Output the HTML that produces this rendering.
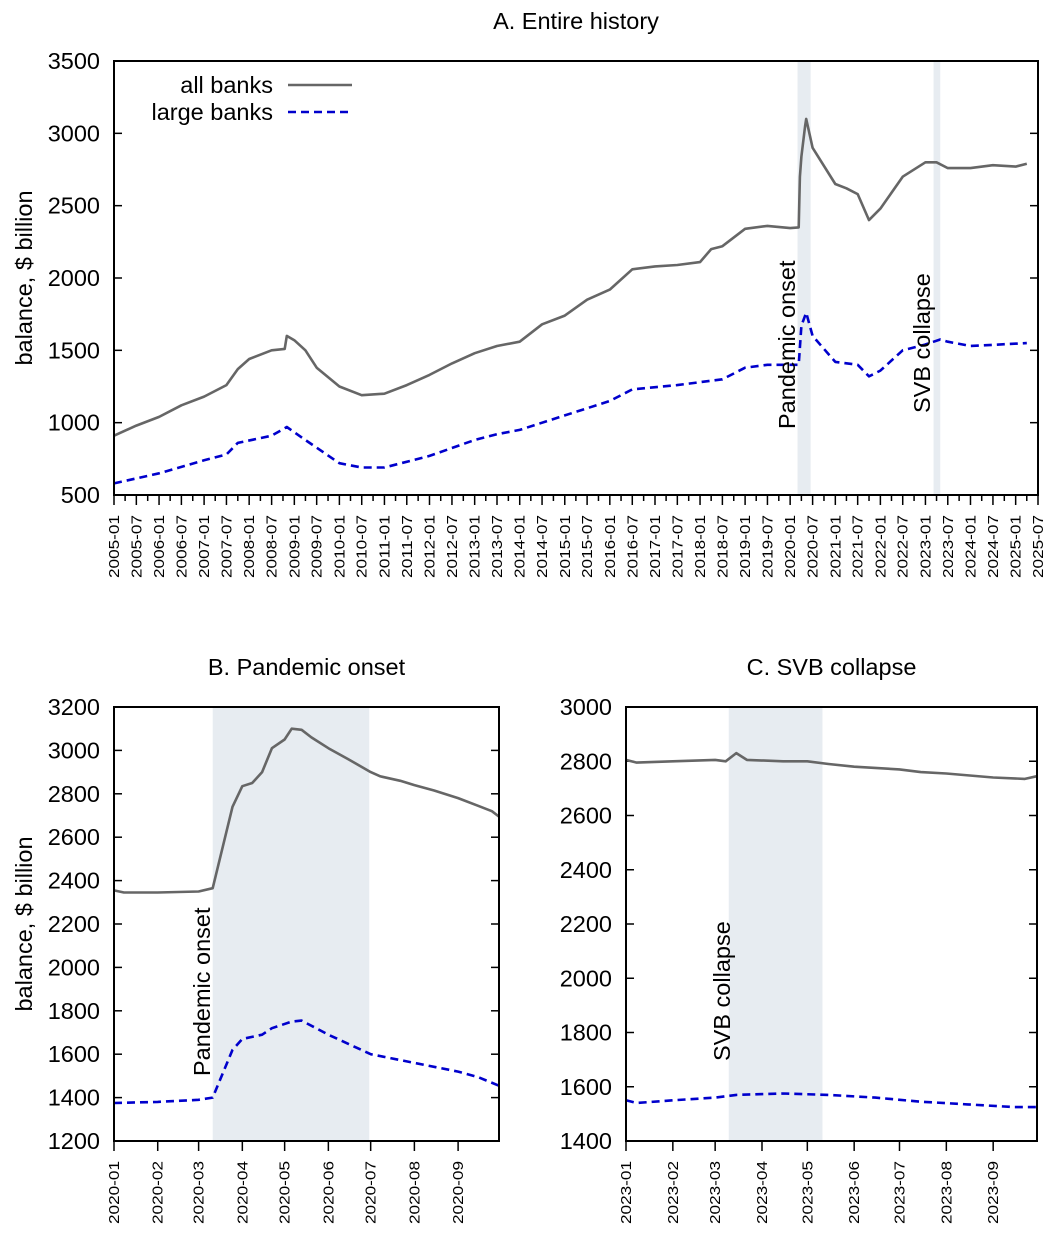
<!DOCTYPE html>
<html><head><meta charset="utf-8">
<style>
html,body{margin:0;padding:0;background:#fff;}
svg{display:block;font-family:"Liberation Sans",Arial,sans-serif;}
</style></head>
<body>
<svg id="fig" width="1047" height="1254" viewBox="0 0 1047 1254" xmlns="http://www.w3.org/2000/svg"></svg>
<script>
// ---- Panel A data (entire history) ----
const aAllDates = ["2005-01-01","2005-07-01","2006-01-01","2006-07-01","2007-01-01","2007-07-01","2007-10-01","2008-01-01","2008-07-01","2008-10-15","2008-11-01","2009-01-01","2009-04-01","2009-07-01","2010-01-01","2010-07-01","2011-01-01","2011-07-01","2012-01-01","2012-07-01","2013-01-01","2013-07-01","2014-01-01","2014-07-01","2015-01-01","2015-07-01","2016-01-01","2016-07-01","2017-01-01","2017-07-01","2018-01-01","2018-04-01","2018-07-01","2019-01-01","2019-07-01","2020-01-01","2020-03-10","2020-03-20","2020-04-01","2020-05-01","2020-05-10","2020-07-01","2021-01-01","2021-04-01","2021-07-01","2021-10-01","2022-01-01","2022-07-01","2023-01-01","2023-04-01","2023-07-01","2024-01-01","2024-07-01","2025-01-01","2025-04-01"];
const aAllVals = [910,980,1040,1120,1180,1260,1370,1440,1500,1510,1600,1570,1500,1380,1250,1190,1200,1260,1330,1410,1480,1530,1560,1680,1740,1850,1920,2060,2080,2090,2110,2200,2220,2340,2360,2345,2350,2700,2840,3050,3100,2900,2650,2620,2580,2400,2480,2700,2800,2800,2760,2760,2780,2770,2790];
const aLargeDates = ["2005-01-01","2006-01-01","2007-01-01","2007-07-01","2007-10-01","2008-07-01","2008-11-01","2009-04-01","2010-01-01","2010-07-01","2011-01-01","2012-01-01","2013-01-01","2013-07-01","2014-01-01","2015-01-01","2016-01-01","2016-07-01","2017-07-01","2018-07-01","2019-01-01","2019-07-01","2020-03-10","2020-04-01","2020-05-10","2020-07-01","2021-01-01","2021-07-01","2021-10-01","2022-01-01","2022-07-01","2023-01-01","2023-05-01","2023-07-01","2024-01-01","2025-04-01"];
const aLargeVals = [580,650,740,780,860,910,970,880,720,690,690,770,880,920,950,1050,1150,1230,1260,1300,1380,1400,1400,1670,1760,1600,1420,1400,1320,1360,1500,1540,1575,1560,1530,1550];
const aYTicks = [500,1000,1500,2000,2500,3000,3500];
// ---- Panel B data (pandemic onset) ----
const bAllDates = ["2020-01-01","2020-01-08","2020-02-01","2020-03-01","2020-03-11","2020-03-25","2020-04-01","2020-04-08","2020-04-15","2020-04-22","2020-05-01","2020-05-06","2020-05-13","2020-05-20","2020-06-01","2020-06-15","2020-07-01","2020-07-08","2020-07-22","2020-08-01","2020-08-15","2020-09-01","2020-09-15","2020-09-25","2020-09-30"];
const bAllVals = [2355,2345,2345,2350,2365,2740,2835,2850,2900,3010,3050,3100,3095,3060,3010,2960,2900,2880,2860,2840,2815,2780,2745,2720,2695];
const bLargeDates = ["2020-01-01","2020-02-01","2020-03-01","2020-03-11","2020-03-25","2020-04-01","2020-04-15","2020-04-22","2020-05-06","2020-05-13","2020-06-01","2020-07-01","2020-08-01","2020-09-01","2020-09-15","2020-09-30"];
const bLargeVals = [1375,1380,1390,1400,1620,1670,1690,1720,1750,1755,1690,1600,1560,1520,1495,1455];
const bYTicks = [1200,1400,1600,1800,2000,2200,2400,2600,2800,3000,3200];
// ---- Panel C data (SVB collapse) ----
const cAllDates = ["2023-01-01","2023-01-08","2023-02-01","2023-03-01","2023-03-08","2023-03-15","2023-03-22","2023-04-15","2023-05-01","2023-05-15","2023-06-01","2023-07-01","2023-07-15","2023-08-01","2023-09-01","2023-09-22","2023-09-30"];
const cAllVals = [2805,2795,2800,2805,2800,2830,2805,2800,2800,2790,2780,2770,2760,2755,2740,2735,2745];
const cLargeDates = ["2023-01-01","2023-01-08","2023-02-01","2023-03-01","2023-03-15","2023-04-15","2023-05-15","2023-06-15","2023-07-15","2023-08-15","2023-09-15","2023-09-30"];
const cLargeVals = [1550,1540,1550,1560,1570,1575,1570,1560,1545,1535,1525,1525];
const cYTicks = [1400,1600,1800,2000,2200,2400,2600,2800,3000];

const NS="http://www.w3.org/2000/svg";
const svg=document.getElementById('fig');
const FS=23.5;
function el(tag,attrs,parent){const e=document.createElementNS(NS,tag);for(const k in attrs)e.setAttribute(k,attrs[k]);(parent||svg).appendChild(e);return e;}
function dnum(s){const p=s.split('-').map(Number);return Date.UTC(p[0],p[1]-1,p[2]||1)/86400000;}

function panel(cfg){
  const g=el('g',{});
  
  
  const x0=dnum(cfg.xmin),x1=dnum(cfg.xmax);
  const sx=d=>cfg.L+(dnum(d)-x0)/(x1-x0)*(cfg.R-cfg.L);
  const sy=v=>cfg.B-(v-cfg.ymin)/(cfg.ymax-cfg.ymin)*(cfg.B-cfg.T);
  cfg.shades.forEach(s=>{
    const r=el('rect',{x:sx(s[0]),y:cfg.T,width:sx(s[1])-sx(s[0]),height:cfg.B-cfg.T,fill:'#e7ecf1'},g);
    
    
  });
  const t=el('text',{x:(cfg.L+cfg.R)/2,y:cfg.T-32,'text-anchor':'middle','font-size':FS},g);
  t.textContent=cfg.title;
  
  
  cfg.yticks.forEach(v=>{
    const y=sy(v);
    el('line',{x1:cfg.L,x2:cfg.L+8,y1:y,y2:y,stroke:'#000','stroke-width':1.5},g);
    el('line',{x1:cfg.R,x2:cfg.R-8,y1:y,y2:y,stroke:'#000','stroke-width':1.5},g);
    const tx=el('text',{x:cfg.L-14,y:y+8,'text-anchor':'end','font-size':FS},g);
    tx.textContent=v;
    
    
  });
  if(cfg.ylabel){
    const yl=el('text',{transform:`translate(${cfg.L-82},${(cfg.T+cfg.B)/2}) rotate(-90)`,'text-anchor':'middle','font-size':FS},g);
    yl.textContent='balance, $ billion';
    
    
  }
  cfg.xminor.forEach(d=>{const x=sx(d);el('line',{x1:x,x2:x,y1:cfg.B,y2:cfg.B+6,stroke:'#000','stroke-width':1.5},g);});
  cfg.xticks.forEach(d=>{
    const x=sx(d);
    el('line',{x1:x,x2:x,y1:cfg.B,y2:cfg.B+10,stroke:'#000','stroke-width':1.5},g);
    const tx=el('text',{transform:`translate(${x+5},${cfg.B+20}) rotate(-90)`,'text-anchor':'end','font-size':15,textLength:63,lengthAdjust:'spacingAndGlyphs'},g);
    tx.textContent=d.slice(0,7);
    
    
  });
  function line(dates,vals,style,name){
    const pts=dates.map((d,i)=>sx(d).toFixed(1)+','+sy(vals[i]).toFixed(1)).join(' ');
    const p=el('polyline',Object.assign({points:pts,fill:'none','stroke-linejoin':'round'},style),g);
    
    
  }
  line(cfg.allD,cfg.allV,{stroke:'#666','stroke-width':2.6},'all-banks-line');
  line(cfg.lgD,cfg.lgV,{stroke:'#0000cc','stroke-width':2.6,'stroke-dasharray':'8,5'},'large-banks-line');
  cfg.notes.forEach(n=>{
    const tx=el('text',{transform:`translate(${n[1]},${n[2]}) rotate(-90)`,'text-anchor':'start','font-size':FS},g);
    tx.textContent=n[0];
    
    
  });
  const fr=el('rect',{x:cfg.L,y:cfg.T,width:cfg.R-cfg.L,height:cfg.B-cfg.T,fill:'none',stroke:'#000','stroke-width':2},g);
  
  
}

const aXT=[],aXm=[];
for(let y=2005;y<=2025;y++){aXT.push(y+'-01-01');aXT.push(y+'-07-01');aXm.push(y+'-04-01');aXm.push(y+'-10-01');}
panel({name:'panel-a-entire-history',title:'A. Entire history',L:114,R:1038,T:61,B:495,xmin:'2005-01-01',xmax:'2025-07-01',ymin:500,ymax:3500,
  yticks:aYTicks,ylabel:true,xticks:aXT,xminor:aXm,allD:aAllDates,allV:aAllVals,lgD:aLargeDates,lgV:aLargeVals,
  shades:[['2020-03-01','2020-06-15'],['2023-03-08','2023-05-01']],
  notes:[['Pandemic onset',795,429],['SVB collapse',930,413]]});
const bXT=['2020-01-01','2020-02-01','2020-03-01','2020-04-01','2020-05-01','2020-06-01','2020-07-01','2020-08-01','2020-09-01'];
panel({name:'panel-b-pandemic-onset',title:'B. Pandemic onset',L:114,R:499,T:707,B:1141,xmin:'2020-01-01',xmax:'2020-09-30',ymin:1200,ymax:3200,
  yticks:bYTicks,ylabel:true,xticks:bXT,xminor:[],allD:bAllDates,allV:bAllVals,lgD:bLargeDates,lgV:bLargeVals,
  shades:[['2020-03-11','2020-06-30']],notes:[['Pandemic onset',210,1076]]});
const cXT=['2023-01-01','2023-02-01','2023-03-01','2023-04-01','2023-05-01','2023-06-01','2023-07-01','2023-08-01','2023-09-01'];
panel({name:'panel-c-svb-collapse',title:'C. SVB collapse',L:626,R:1037,T:707,B:1141,xmin:'2023-01-01',xmax:'2023-09-30',ymin:1400,ymax:3000,
  yticks:cYTicks,ylabel:false,xticks:cXT,xminor:[],allD:cAllDates,allV:cAllVals,lgD:cLargeDates,lgV:cLargeVals,
  shades:[['2023-03-10','2023-05-11']],notes:[['SVB collapse',730,1061]]});

const lg=el('g',{});


const l1=el('text',{x:273,y:93,'text-anchor':'end','font-size':FS},lg);l1.textContent='all banks';


el('line',{x1:288,x2:352,y1:85,y2:85,stroke:'#666','stroke-width':2.6},lg);
const l2=el('text',{x:273,y:120,'text-anchor':'end','font-size':FS},lg);l2.textContent='large banks';


el('line',{x1:288,x2:352,y1:112,y2:112,stroke:'#0000cc','stroke-width':2.6,'stroke-dasharray':'8,5'},lg);
</script>
</body></html>
